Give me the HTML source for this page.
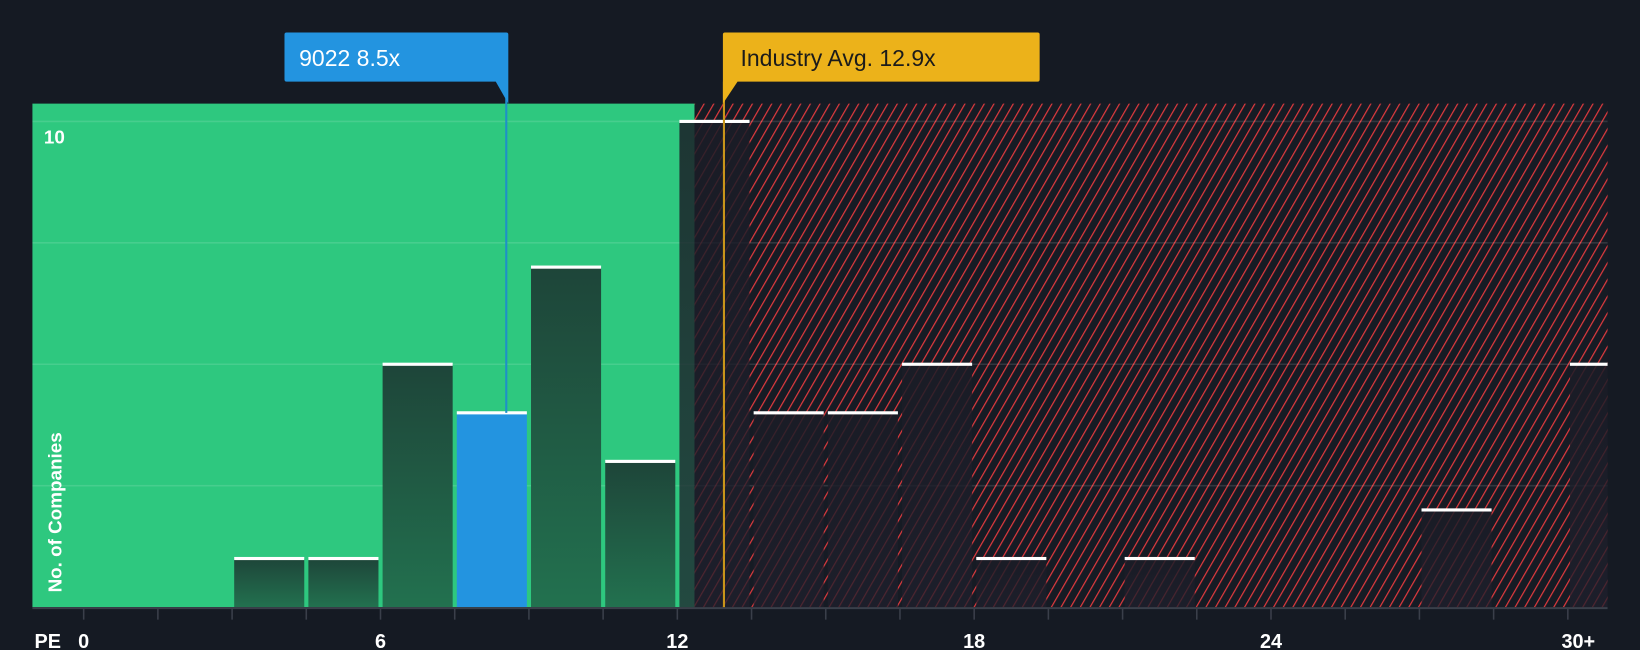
<!DOCTYPE html>
<html><head><meta charset="utf-8"><style>
html,body{margin:0;padding:0;background:#151a23;}
svg{display:block;font-family:"Liberation Sans",sans-serif;}
</style></head><body>
<svg id="chart" width="1640" height="650" viewBox="0 0 1568 621" preserveAspectRatio="none">
<defs>
<pattern id="hatch" patternUnits="userSpaceOnUse" width="8" height="8" patternTransform="rotate(30)">
<rect width="8" height="8" fill="#161b24"/>
<line x1="0" y1="0" x2="0" y2="8" stroke="#e03a3e" stroke-width="2.3"/>
</pattern>
<linearGradient id="gbar" x1="0" y1="0" x2="0" y2="1">
<stop offset="0" stop-color="#1e4539"/><stop offset="1" stop-color="#22714f"/>
</linearGradient>
<linearGradient id="rbar" x1="0" y1="0" x2="0" y2="1">
<stop offset="0" stop-color="#1a1c26" stop-opacity="0.85"/><stop offset="1" stop-color="#1f1f2c" stop-opacity="0.75"/>
</linearGradient>
</defs>
<rect width="1568" height="621" fill="#151a23"/>
<rect x="31" y="99" width="633" height="481" fill="#2ec87f"/>
<rect x="664" y="99" width="873" height="481" fill="url(#hatch)"/>
<g id="grid"></g>
<g id="bars"></g>
<g id="axis"></g>
<g id="markers"></g>
</svg>
<script>
const binCounts = [0,0,1,1,5,4,7,3,10,4,4,5,1,0,1,0,0,0,2,0,5];
const tickLabels = ["0","6","12","18","24","30+"];
const tickValues = [0,6,12,18,24,30];
const companyPE = 8.5;
const industryPE = 12.9;
const yTicks = [2.5,5,7.5,10];

const NS="http://www.w3.org/2000/svg";
const x = v => 80 + v*47.3;
const y = v => 580 - v*46.4;
function mk(tag, attrs, parent){const e=document.createElementNS(NS,tag);for(const k in attrs)e.setAttribute(k,attrs[k]);parent.appendChild(e);return e;}
const grid=document.getElementById('grid'), bars=document.getElementById('bars'), axis=document.getElementById('axis'), markers=document.getElementById('markers');

yTicks.forEach(t=>{
  const l=mk('line',{x1:31,x2:1537,y1:y(t),y2:y(t),stroke:'#ffffff','stroke-opacity':0.12,'stroke-width':1.5},grid);
  
  
});
const yl=mk('text',{x:42,y:y(10)+21,fill:'#fff','font-size':18,'font-weight':'bold'},grid);
yl.textContent='10';



binCounts.forEach((c,i)=>{
  if(!c) return;
  const x0=x(i*1.5)+2, w=67;
  const right=Math.min(x0+w,1537);
  const inGreen = x0 < 648;
  const isCompany = companyPE>=i*1.5 && companyPE<(i+1)*1.5;
  const fill = isCompany ? '#2394e0' : (inGreen ? 'url(#gbar)' : 'url(#rbar)');
  const r=mk('rect',{x:x0,y:y(c),width:right-x0,height:580-y(c),fill:fill},bars);
  
  
  const t=mk('rect',{x:x0,y:y(c)-1.5,width:right-x0,height:3,fill:'#ffffff'},bars);
  
  
});

mk('line',{x1:31,x2:1537,y1:581,y2:581,stroke:'#3a3f4a','stroke-width':2},axis);
for(let i=0;i<=20;i++){
  mk('line',{x1:x(i*1.5),x2:x(i*1.5),y1:581,y2:592,stroke:'#3a3f4a','stroke-width':1.5},axis);
}
const pe=mk('text',{x:33,y:619,fill:'#fff','font-size':19,'font-weight':'bold'},axis);
pe.textContent='PE';


tickValues.forEach((v,i)=>{
  const t=mk('text',{x:x(v)+(i==5?10:0),y:619,fill:'#fff','font-size':19,'font-weight':'bold','text-anchor':'middle'},axis);
  t.textContent=tickLabels[i];
  
  
});
const yt=mk('text',{x:0,y:0,fill:'#fff','font-size':18,'font-weight':'bold',transform:'translate(59,566) rotate(-90)'},axis);
yt.textContent='No. of Companies';



// company marker
const cx=x(companyPE)+2;
mk('line',{x1:cx,x2:cx,y1:78,y2:y(binCounts[5]),stroke:'#1e90c8','stroke-width':2},markers);
const cb=mk('path',{d:`M272 33 Q272 31 274 31 L484 31 Q486 31 486 33 L486 99 L474 78 L274 78 Q272 78 272 76 Z`,fill:'#2394e0'},markers);


const ct=mk('text',{x:286,y:63,fill:'#fff','font-size':22},markers);
ct.textContent='9022 8.5x';



// industry marker
const ix=x(industryPE)+2;
mk('line',{x1:ix,x2:ix,y1:78,y2:580,stroke:'#c9951a','stroke-width':2},markers);
const ib=mk('path',{d:`M${ix-1} 33 Q${ix-1} 31 ${ix+1} 31 L992 31 Q994 31 994 33 L994 76 Q994 78 992 78 L${ix+13} 78 L${ix-1} 99 Z`,fill:'#ecb21a'},markers);


const it=mk('text',{x:708,y:63,fill:'#1b1b1b','font-size':22},markers);
it.textContent='Industry Avg. 12.9x';


</script>
</body></html>
